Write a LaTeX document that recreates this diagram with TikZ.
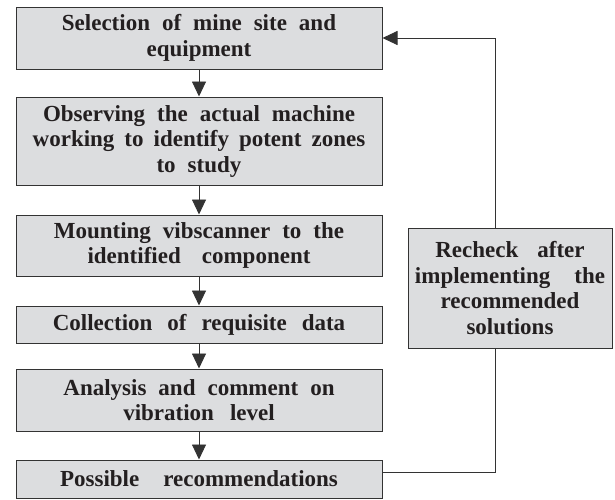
\documentclass[tikz,border=0pt]{standalone}
\usepackage{fontspec}
\setmainfont{Liberation Serif}
\usetikzlibrary{arrows.meta}
\definecolor{boxfill}{RGB}{220,221,223}
\definecolor{boxline}{RGB}{51,51,51}
\definecolor{txt}{RGB}{35,31,32}
\newcommand\boxfont{\bfseries\fontsize{23}{25.5}\selectfont\spaceskip 12pt\relax}
\begin{document}
\begin{tikzpicture}[x=1pt,y=-1pt,
  stepbox/.style={draw=boxline, fill=boxfill, line width=1pt, minimum width=366pt,
    inner sep=0pt, align=center, text=txt, font=\boxfont},
  link/.style={draw=boxline, line width=0.9pt},
  conn/.style={link, -{Triangle[width=14pt,length=15pt]}}]
\useasboundingbox (0,0) rectangle (615,499);
\node[stepbox, minimum height=62pt] (b1) at (199,38) {Selection of mine site and\\equipment};
\node[stepbox, minimum height=88pt] (b2) at (199,141) {Observing the actual machine\\working\hspace{-2pt} to\hspace{-2pt} identify\hspace{-2pt} potent\hspace{-2pt} zones\\to study};
\node[stepbox, minimum height=61pt] (b3) at (199,245.5) {Mounting vibscanner to the\\identified\hspace{9pt} component};
\node[stepbox, minimum height=37pt] (b4) at (199,324.5) {Collection\hspace{3pt} of\hspace{3pt} requisite\hspace{3pt} data};
\node[stepbox, minimum height=62pt] (b5) at (199,400) {Analysis and comment on\\vibration\hspace{4pt} level};
\node[stepbox, minimum height=38pt] (b6) at (199,479) {Possible\hspace{12pt} recommendations};
\node[stepbox, minimum width=204pt, minimum height=120pt] (r) at (510,288) {Recheck\hspace{7pt} after\\implementing\hspace{12pt} the\\recommended\\solutions};
\draw[conn] (b1) -- (b2);
\draw[conn] (b2) -- (b3);
\draw[conn] (b3) -- (b4);
\draw[conn] (b4) -- (b5);
\draw[conn] (b5) -- (b6);
\coordinate (c1) at (495,472);
\coordinate (c2) at (495,38);
\draw[link] (b6.east |- c1) -- (c1) -- (c1 |- r.south);
\draw[conn] (c2 |- r.north) -- (c2) -- (b1.east);
\end{tikzpicture}
\end{document}
